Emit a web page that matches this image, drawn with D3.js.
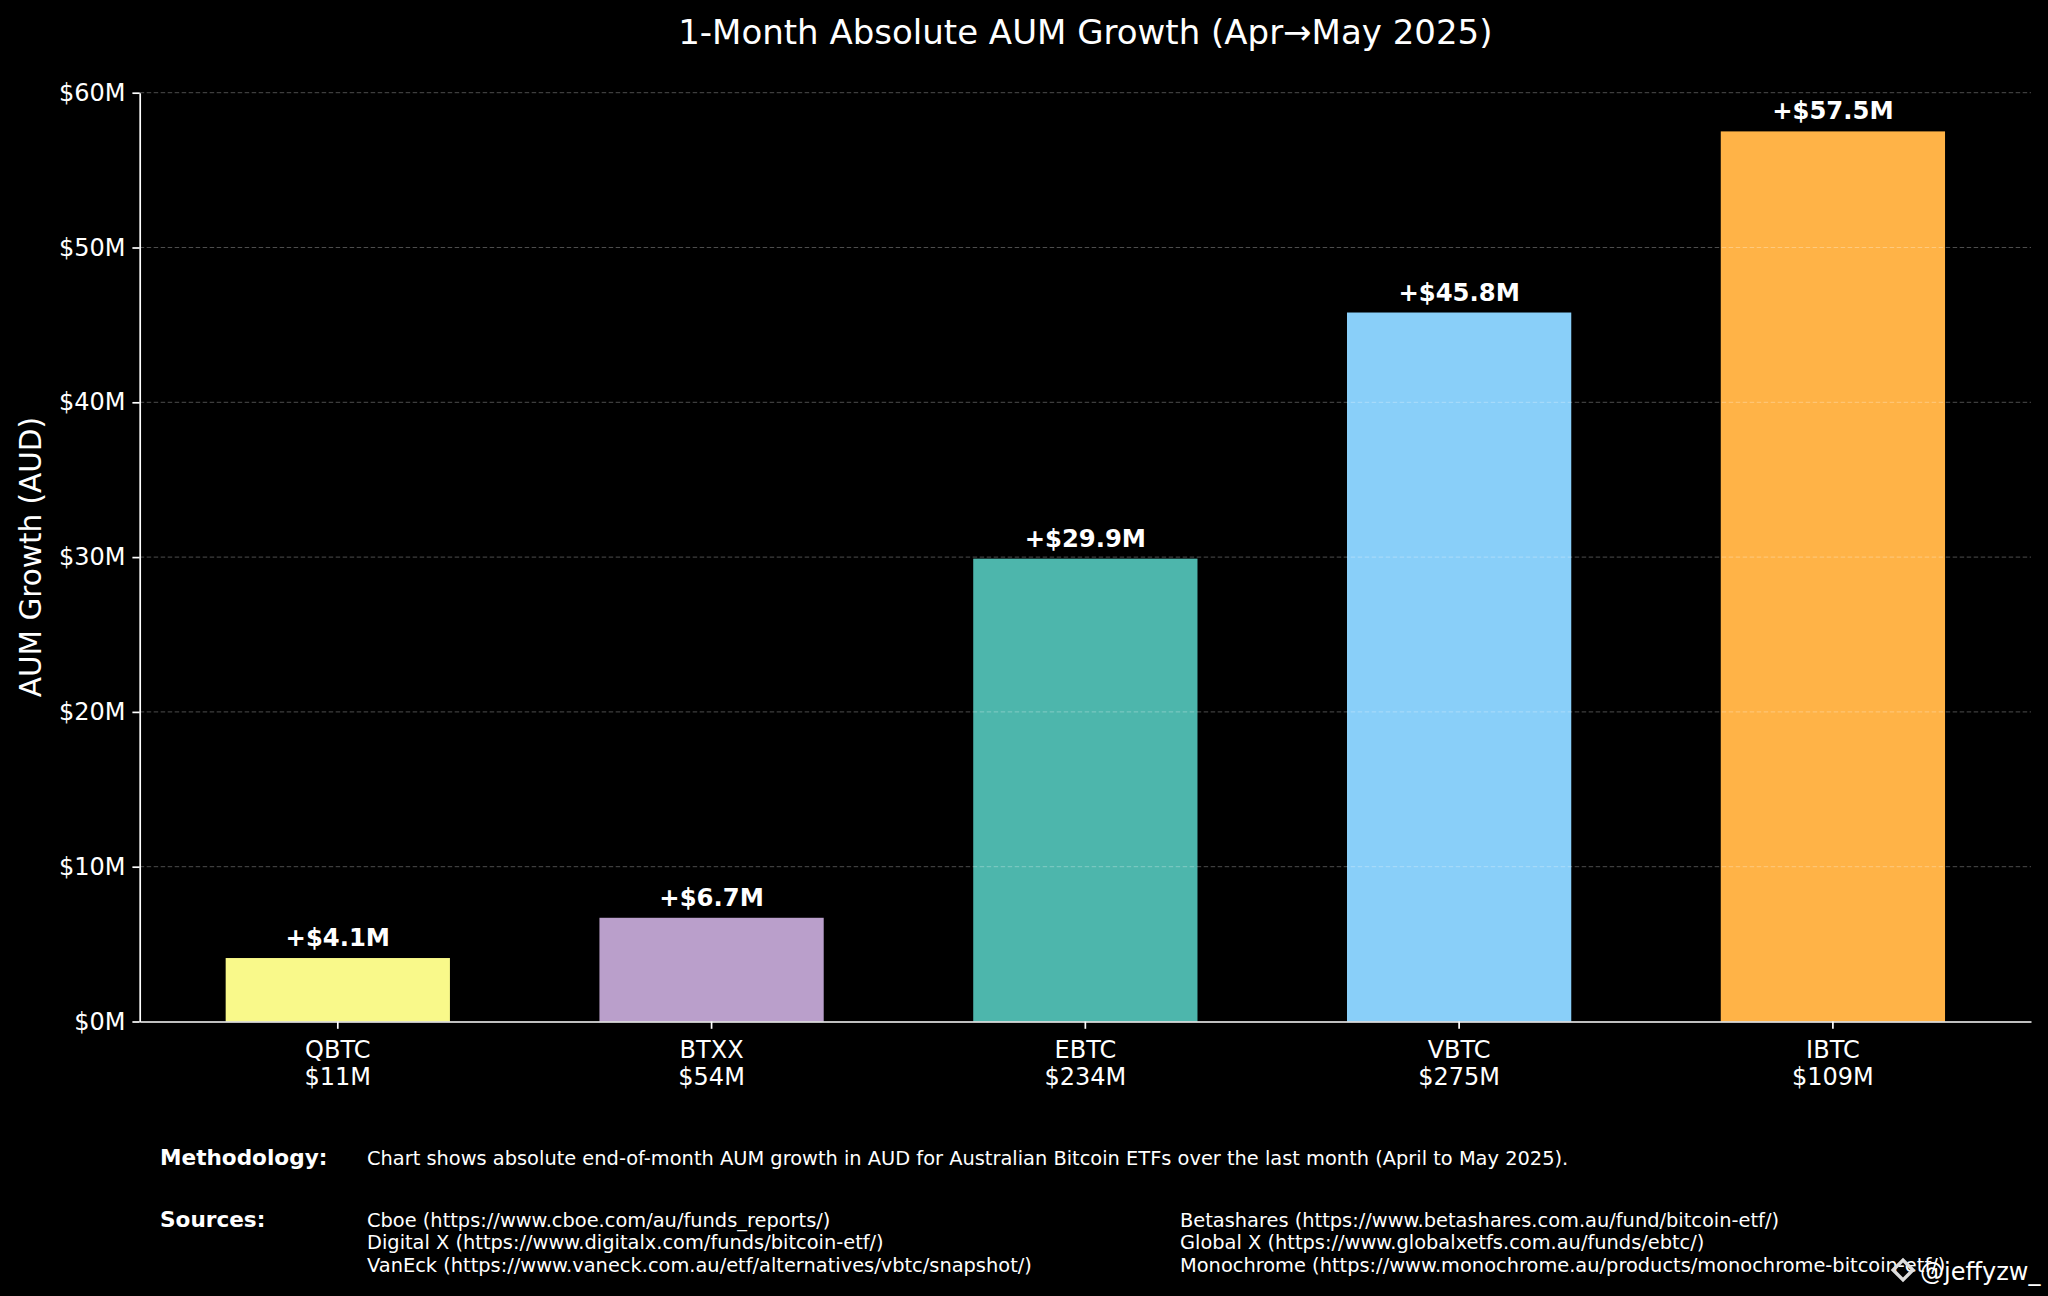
<!DOCTYPE html>
<html>
<head>
<meta charset="utf-8">
<script src="https://cdn.jsdelivr.net/npm/d3@7"></script>
<style>
  body { margin: 0; background: #000; }
  svg text { font-family: "DejaVu Sans", sans-serif; fill: #fff; }
</style>
</head>
<body>
<div id="chart"></div>
<script>
const tickers = ["QBTC", "BTXX", "EBTC", "VBTC", "IBTC"];
const aumLabels = ["$11M", "$54M", "$234M", "$275M", "$109M"];
const growth = [4.1, 6.7, 29.9, 45.8, 57.5];
const barColors = ["#F9F98A", "#BA9FCB", "#4DB6AC", "#89CFF9", "#FFB347"];
const yTicks = [0, 10, 20, 30, 40, 50, 60];

const title = "1-Month Absolute AUM Growth (Apr\u2192May 2025)";
const yLabel = "AUM Growth (AUD)";
const methodology = "Chart shows absolute end-of-month AUM growth in AUD for Australian Bitcoin ETFs over the last month (April to May 2025).";
const sourcesLeft = [
  "Cboe (https://www.cboe.com/au/funds_reports/)",
  "Digital X (https://www.digitalx.com/funds/bitcoin-etf/)",
  "VanEck (https://www.vaneck.com.au/etf/alternatives/vbtc/snapshot/)"
];
const sourcesRight = [
  "Betashares (https://www.betashares.com.au/fund/bitcoin-etf/)",
  "Global X (https://www.globalxetfs.com.au/funds/ebtc/)",
  "Monochrome (https://www.monochrome.au/products/monochrome-bitcoin-etf/)"
];
const watermark = "@jeffyzw_";

const data = tickers.map((t, i) => ({ ticker: t, aum: aumLabels[i], value: growth[i], color: barColors[i] }));

const width = 2048, height = 1296;
const margin = { top: 92.7, right: 17, bottom: 274.5, left: 139.7 };

const svg = d3.select("#chart")
  .append("svg")
  .attr("width", width)
  .attr("height", height)
  .style("background", "#000");

const x = d3.scaleBand()
  .domain(tickers)
  .range([margin.left, width - margin.right])
  .paddingInner(0.4)
  .paddingOuter(0.23);

const y = d3.scaleLinear()
  .domain([0, 60])
  .range([height - margin.bottom, margin.top]);

// bars
svg.selectAll("rect.bar")
  .data(data)
  .enter()
  .append("rect")
  .attr("class", "bar")
  .attr("x", d => x(d.ticker))
  .attr("y", d => y(d.value))
  .attr("width", x.bandwidth())
  .attr("height", d => y(0) - y(d.value))
  .attr("fill", d => d.color);

// grid (sits over bars, faint)
svg.append("g")
  .selectAll("line")
  .data(yTicks.filter(d => d > 0))
  .enter()
  .append("line")
  .attr("x1", margin.left)
  .attr("x2", width - margin.right)
  .attr("y1", d => y(d))
  .attr("y2", d => y(d))
  .attr("stroke", "#fff")
  .attr("stroke-opacity", 0.3)
  .attr("stroke-width", 1)
  .attr("stroke-dasharray", "4.5,2.5");

// y axis
const yAxis = svg.append("g")
  .attr("transform", `translate(${margin.left},0)`)
  .call(d3.axisLeft(y).tickValues(yTicks).tickFormat(d => `$${d}M`).tickSize(7.3).tickSizeOuter(0).tickPadding(7));

// x axis
const xAxis = svg.append("g")
  .attr("transform", `translate(0,${y(0)})`)
  .call(d3.axisBottom(x).tickSize(7.3).tickSizeOuter(0).tickPadding(7).tickFormat(""));

[yAxis, xAxis].forEach(g => {
  g.select(".domain").attr("stroke", "#fff").attr("stroke-width", 1.7);
  g.selectAll(".tick line").attr("stroke", "#fff").attr("stroke-width", 1.7);
  g.selectAll(".tick text").attr("fill", "#fff").style("font-size", "24px").style("font-family", "DejaVu Sans");
});

xAxis.selectAll(".tick").each(function(d, i) {
  const t = d3.select(this).select("text").attr("y", null).attr("dy", null);
  t.append("tspan").attr("x", 0).attr("y", 36).text(d);
  t.append("tspan").attr("x", 0).attr("y", 63).text(aumLabels[i]);
});

// value labels
svg.selectAll("text.val")
  .data(data)
  .enter()
  .append("text")
  .attr("class", "val")
  .attr("x", d => x(d.ticker) + x.bandwidth() / 2)
  .attr("y", d => y(d.value) - 12)
  .attr("text-anchor", "middle")
  .style("font-size", "24.3px")
  .style("font-weight", "bold")
  .text(d => `+$${d.value.toFixed(1)}M`);

// title
svg.append("text")
  .attr("x", (margin.left + width - margin.right) / 2)
  .attr("y", 44)
  .attr("text-anchor", "middle")
  .style("font-size", "34px")
  .text(title);

// y label
svg.append("text")
  .attr("transform", `translate(41,${(y(0) + y(60)) / 2}) rotate(-90)`)
  .attr("text-anchor", "middle")
  .style("font-size", "29.5px")
  .text(yLabel);

// notes
const notes = svg.append("g");
notes.append("text")
  .attr("x", 160).attr("y", 1165)
  .style("font-size", "21.6px").style("font-weight", "bold")
  .text("Methodology:");
notes.append("text")
  .attr("x", 367).attr("y", 1165)
  .style("font-size", "19.4px")
  .text(methodology);
notes.append("text")
  .attr("x", 160).attr("y", 1226.5)
  .style("font-size", "21.6px").style("font-weight", "bold")
  .text("Sources:");
[[sourcesLeft, 367], [sourcesRight, 1180]].forEach(([lines, xp]) => {
  notes.selectAll(null)
    .data(lines)
    .enter()
    .append("text")
    .attr("x", xp)
    .attr("y", (d, i) => 1226.5 + i * 22.6)
    .style("font-size", "19.4px")
    .text(d => d);
});

// watermark
const wm = svg.append("g").attr("transform", "translate(1903,1270)");
wm.append("rect")
  .attr("x", -7).attr("y", -7).attr("width", 14).attr("height", 14)
  .attr("transform", "rotate(45)")
  .attr("fill", "none").attr("stroke", "#ddd").attr("stroke-width", 3.5);
wm.append("text")
  .attr("x", 17).attr("y", 10)
  .style("font-size", "24px")
  .attr("fill", "#fff")
  .text(watermark);
</script>
</body>
</html>
